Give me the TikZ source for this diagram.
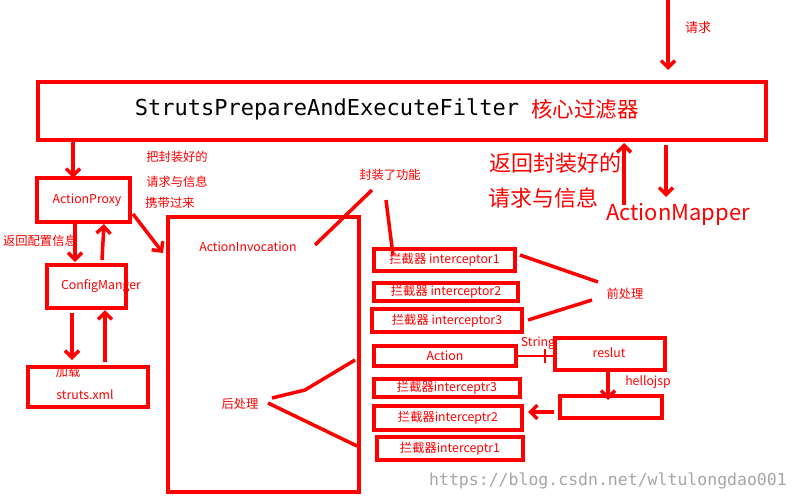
\documentclass[tikz,border=0pt]{standalone}
\usepackage{fontspec}
\setmainfont{Noto Sans CJK SC}
\newfontfamily\monofont{DejaVu Sans Mono}
\usetikzlibrary{arrows.meta}

\tikzset{
  box/.style={draw=red, line width=3.5pt},
  pen/.style={draw=red, line width=3.5pt},
  arr/.style={pen, -{Straight Barb[length=7pt,width=14pt]}},
  lbl/.style={text=red, font=\fontsize{12.3}{12.3}\selectfont, inner sep=0pt},
  big/.style={text=red, font=\fontsize{22}{22}\selectfont, inner sep=0pt},
}

\begin{document}
\begin{tikzpicture}[x=1pt,y=-1pt]
\useasboundingbox[fill=white] (0,0) rectangle (800,500);

% filter
\draw[box] (38,82) rectangle (766,140);
\node[inner sep=0pt, font=\monofont\fontsize{22}{22}\selectfont] (filter) at (327,109) {StrutsPrepareAndExecuteFilter};
\node[big, font=\fontsize{21.5}{21.5}\selectfont] (core) at (585,109) {核心过滤器};
\coordinate (req) at (668,0);
\coordinate (reqend) at (668,70);
\draw[arr] (req) -- (reqend);
\node[lbl, font=\fontsize{13}{13}\selectfont] (reqlbl) at (698,28) {请求};

% left column
\draw[box] (37,178) rectangle (130,222);
\node[lbl] (proxy) at (87,200) {ActionProxy};
\draw[box] (47,265) rectangle (126,308);
\node[lbl] (config) at (101,286) {ConfigManger};
\draw[box] (28,367) rectangle (148,407);
\node[lbl] (load) at (68,372) {加载};
\node[lbl] (xml) at (85,395) {struts.xml};

\draw[arr] (73,140) -- (73,178);
\draw[arr] (75,224) -- (75,262);
\draw[arr] (102,260) -- (104,224);
\draw[arr] (72,313) -- (72,360);
\draw[arr] (105,362) -- (105,310);
\node[lbl] (back) at (40,241) {返回配置信息};
\node[lbl] (carry1) at (177,157) {把封装好的};
\node[lbl] (carry2) at (177,182) {请求与信息};
\node[lbl] (carry3) at (170,203) {携带过来};
\draw[arr] (133,214) -- (163,253);

% invocation
\draw[box] (168,217) rectangle (359,492);
\node[lbl] (invoc) at (248,247) {ActionInvocation};
\node[lbl] (wrap) at (390,175) {封装了功能};
\draw[pen] (315,245) -- (372,190);
\draw[pen] (386,200) -- (393,255);
\node[lbl] (post) at (240,404) {后处理};
\draw[pen] (272,398) -- (305,390) -- (355,360);
\draw[pen] (268,403) -- (357,446);

% interceptors
\foreach \name/\xa/\ya/\xb/\yb/\txt in {
  ic1/374/249/515/271/拦截器 interceptor1,
  ic2/374/283/518/301/拦截器 interceptor2,
  ic3/372/309/522/332/拦截器 interceptor3,
  act/374/346/516/366/Action,
  ir3/374/379/520/397/拦截器interceptr3,
  ir2/374/406/522/430/拦截器interceptr2,
  ir1/377/437/523/460/拦截器interceptr1}{
  \draw[box] (\xa,\ya) rectangle (\xb,\yb);
  \node[lbl] (\name) at ({(\xa+\xb)/2},{(\ya+\yb)/2}) {\txt};
}
\node[lbl] (pre) at (625,294) {前处理};
\draw[pen] (520,255) -- (598,282);
\draw[pen] (528,320) -- (592,300);

% result
\draw[box] (555,338) rectangle (665,370);
\node[lbl] (result) at (609,353) {reslut};
\draw[red, line width=2pt] (516,356) -- (555,356);
\draw[red, line width=2pt] (545,349) -- (545,363);
\node[lbl] (string) at (538,343) {String};
\draw[box] (560,396) rectangle (662,418);
\draw[arr] (608,372) -- (608,400);
\node[lbl] (jsp) at (648,382) {hellojsp};
\draw[arr] (554,412) -- (528,412);

% mapper
\node[big] (ret1) at (555,163) {返回封装好的};
\node[big] (ret2) at (543,198) {请求与信息};
\draw[arr] (624,205) -- (624,143);
\draw[arr] (666,145) -- (666,197);
\node[big] (mapper) at (678,214) {ActionMapper};

\node[inner sep=0pt, text=black!35, font=\monofont\fontsize{16.5}{16.5}\selectfont] (mark) at (608,481) {https://blog.csdn.net/wltulongdao001};
\end{tikzpicture}
\end{document}
